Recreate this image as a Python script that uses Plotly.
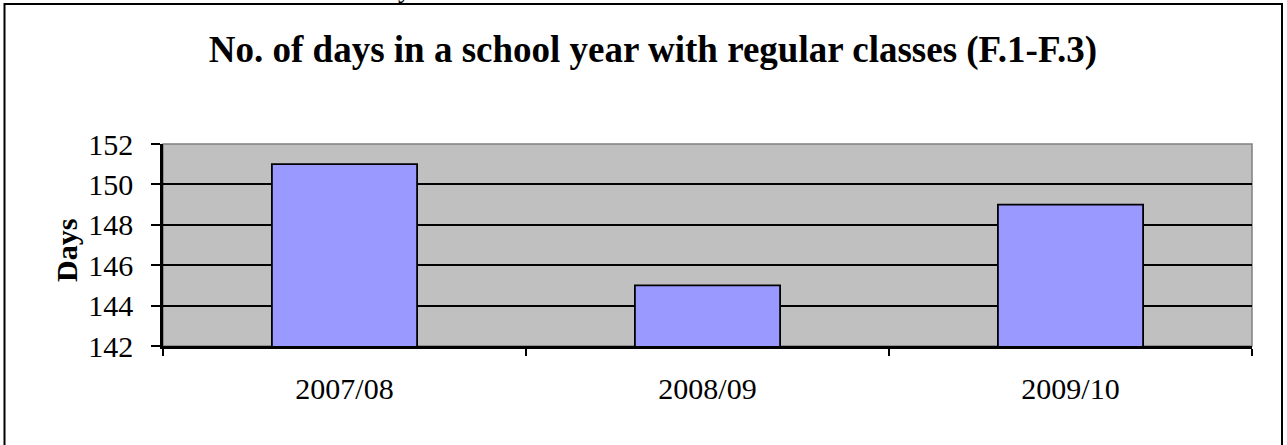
import plotly.graph_objects as go

categories = ["2007/08", "2008/09", "2009/10"]
days = [151, 145, 149]
y_ticks = [142, 144, 146, 148, 150, 152]
title_text = "No. of days in a school year with regular classes (F.1-F.3)"
y_title = "Days"

W, H = 1287, 445
L, R, T, B = 163, 1252, 144, 346
pw, ph = R - L, B - T

FONT = "Liberation Serif, Times New Roman, serif"

fig = go.Figure()
fig.add_trace(go.Bar(
    x=categories, y=days,
    marker=dict(color="#9999FF", line=dict(color="black", width=1.8)),
    width=0.4,
))

fig.update_layout(
    width=W, height=H,
    margin=dict(l=L, r=W - R, t=T, b=H - B, pad=0),
    paper_bgcolor="white",
    plot_bgcolor="#C0C0C0",
    showlegend=False,
    font=dict(family=FONT, color="black"),
    title=dict(text="<b>" + title_text + "</b>", x=653 / W, xanchor="center",
               y=1 - 49 / H, yanchor="middle", yref="container",
               font=dict(family=FONT, size=37, color="black")),
    xaxis=dict(
        type="category", range=[-0.5, 2.5],
        showline=True, linecolor="black", linewidth=2.5,
        ticks="outside", tickson="boundaries", ticklen=7, tickwidth=1.5, tickcolor="black",
        tickfont=dict(family=FONT, size=30, color="black"),
        ticklabelstandoff=14,
        showgrid=False, zeroline=False,
    ),
    yaxis=dict(
        range=[142, 152], tickvals=y_ticks,
        showline=True, linecolor="black", linewidth=2.5,
        ticks="outside", ticklen=9, tickwidth=1.5, tickcolor="black",
        tickfont=dict(family=FONT, size=30, color="black"),
        ticklabelstandoff=12,
        showgrid=True, gridcolor="black", gridwidth=1.5,
        zeroline=False,
    ),
    bargap=0.6,
)

# plot area grey frame (top and right)
fig.add_shape(type="rect", xref="paper", yref="paper", x0=0, x1=1, y0=0, y1=1,
              line=dict(color="#808080", width=1.5), layer="below")
# outer chart border
fig.add_shape(type="rect", xref="paper", yref="paper",
              x0=(4.5 - L) / pw, x1=(1282 - L) / pw,
              y0=(B - 460) / ph, y1=(B - 4) / ph,
              line=dict(color="black", width=2))

fig.add_annotation(text="<b>" + y_title + "</b>", xref="paper", yref="paper",
                   x=(66 - L) / pw, y=(B - 251) / ph, textangle=-90,
                   showarrow=False, xanchor="center", yanchor="middle",
                   font=dict(family=FONT, size=30, color="black"))
# cropped fragment of text above the chart (only its descender shows)
fig.add_annotation(text="y", xref="paper", yref="paper",
                   x=(405 - L) / pw, y=(B - 5) / ph, showarrow=False,
                   xanchor="center", yanchor="bottom",
                   font=dict(family=FONT, size=27, color="black"))

fig.write_html("out.html", config={"displayModeBar": False},
               post_script="document.body.style.margin='0px';document.body.style.overflow='hidden';")
